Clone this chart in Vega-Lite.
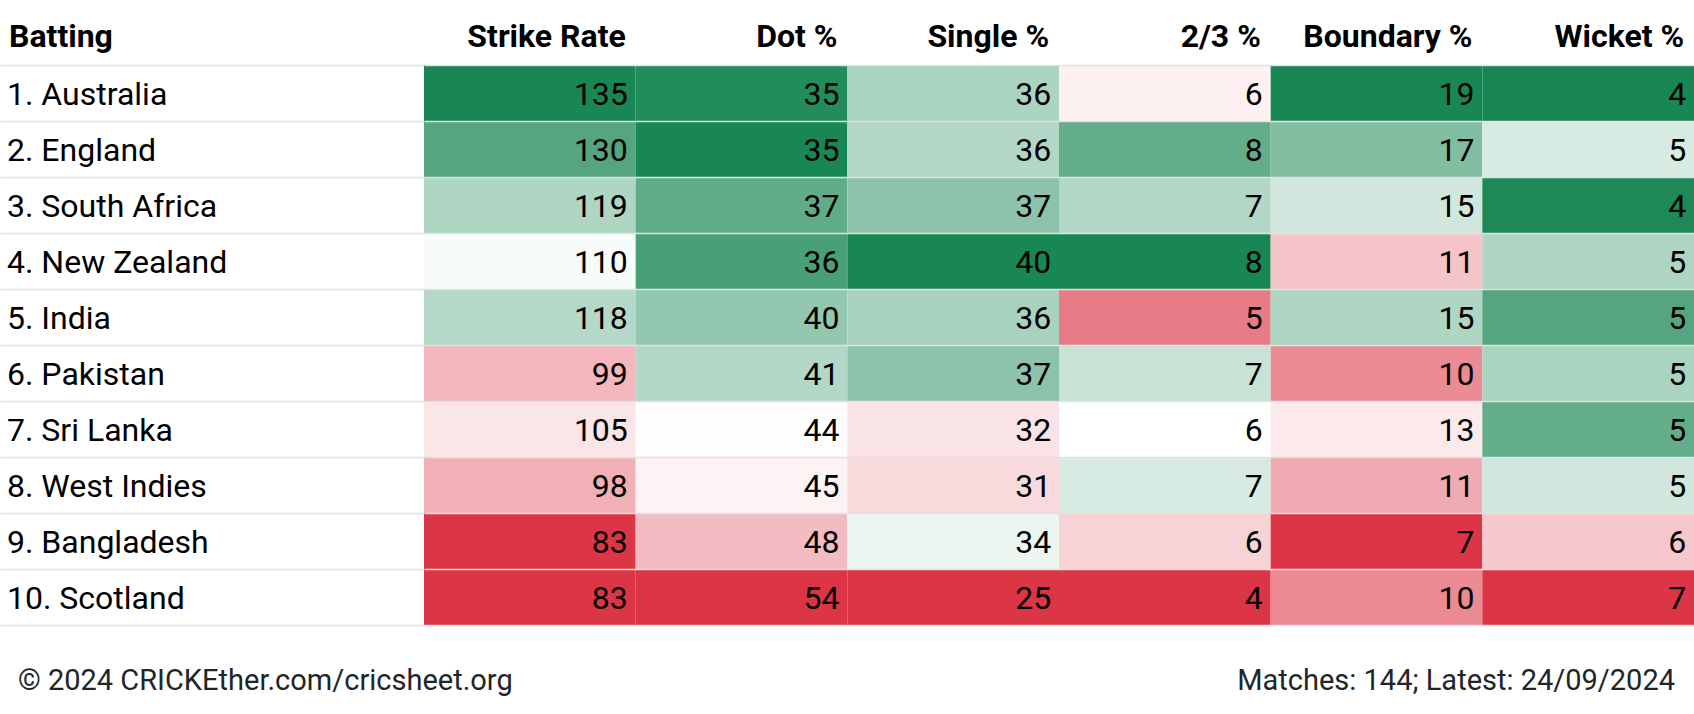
{
  "$schema": "https://vega.github.io/schema/vega-lite/v6.json",
  "padding": {"top": 20, "left": 0, "right": 0, "bottom": 0},
  "background": "white",
  "bounds": "flush",
  "spacing": 0,
  "config": {"view": {"stroke": null}, "font": "Roboto", "concat": {"spacing": 0}},
  "datasets": {
    "teams": [
      {"team": "1. Australia"}, {"team": "2. England"}, {"team": "3. South Africa"}, {"team": "4. New Zealand"}, {"team": "5. India"},
      {"team": "6. Pakistan"}, {"team": "7. Sri Lanka"}, {"team": "8. West Indies"}, {"team": "9. Bangladesh"}, {"team": "10. Scotland"}
    ],
    "cells": [
      {"team": "1. Australia", "metric": "Strike Rate", "value": 135, "rating": 1.0},
      {"team": "1. Australia", "metric": "Dot %", "value": 35, "rating": 0.96},
      {"team": "1. Australia", "metric": "Single %", "value": 36, "rating": 0.37},
      {"team": "1. Australia", "metric": "2/3 %", "value": 6, "rating": -0.07},
      {"team": "1. Australia", "metric": "Boundary %", "value": 19, "rating": 1.0},
      {"team": "1. Australia", "metric": "Wicket %", "value": 4, "rating": 1.0},
      {"team": "2. England", "metric": "Strike Rate", "value": 130, "rating": 0.74},
      {"team": "2. England", "metric": "Dot %", "value": 35, "rating": 1.0},
      {"team": "2. England", "metric": "Single %", "value": 36, "rating": 0.33},
      {"team": "2. England", "metric": "2/3 %", "value": 8, "rating": 0.68},
      {"team": "2. England", "metric": "Boundary %", "value": 17, "rating": 0.55},
      {"team": "2. England", "metric": "Wicket %", "value": 5, "rating": 0.17},
      {"team": "3. South Africa", "metric": "Strike Rate", "value": 119, "rating": 0.35},
      {"team": "3. South Africa", "metric": "Dot %", "value": 37, "rating": 0.69},
      {"team": "3. South Africa", "metric": "Single %", "value": 37, "rating": 0.5},
      {"team": "3. South Africa", "metric": "2/3 %", "value": 7, "rating": 0.33},
      {"team": "3. South Africa", "metric": "Boundary %", "value": 15, "rating": 0.2},
      {"team": "3. South Africa", "metric": "Wicket %", "value": 4, "rating": 0.98},
      {"team": "4. New Zealand", "metric": "Strike Rate", "value": 110, "rating": 0.035},
      {"team": "4. New Zealand", "metric": "Dot %", "value": 36, "rating": 0.79},
      {"team": "4. New Zealand", "metric": "Single %", "value": 40, "rating": 1.0},
      {"team": "4. New Zealand", "metric": "2/3 %", "value": 8, "rating": 1.0},
      {"team": "4. New Zealand", "metric": "Boundary %", "value": 11, "rating": -0.29},
      {"team": "4. New Zealand", "metric": "Wicket %", "value": 5, "rating": 0.35},
      {"team": "5. India", "metric": "Strike Rate", "value": 118, "rating": 0.32},
      {"team": "5. India", "metric": "Dot %", "value": 40, "rating": 0.47},
      {"team": "5. India", "metric": "Single %", "value": 36, "rating": 0.38},
      {"team": "5. India", "metric": "2/3 %", "value": 5, "rating": -0.65},
      {"team": "5. India", "metric": "Boundary %", "value": 15, "rating": 0.35},
      {"team": "5. India", "metric": "Wicket %", "value": 5, "rating": 0.74},
      {"team": "6. Pakistan", "metric": "Strike Rate", "value": 99, "rating": -0.36},
      {"team": "6. Pakistan", "metric": "Dot %", "value": 41, "rating": 0.33},
      {"team": "6. Pakistan", "metric": "Single %", "value": 37, "rating": 0.5},
      {"team": "6. Pakistan", "metric": "2/3 %", "value": 7, "rating": 0.24},
      {"team": "6. Pakistan", "metric": "Boundary %", "value": 10, "rating": -0.57},
      {"team": "6. Pakistan", "metric": "Wicket %", "value": 5, "rating": 0.37},
      {"team": "7. Sri Lanka", "metric": "Strike Rate", "value": 105, "rating": -0.13},
      {"team": "7. Sri Lanka", "metric": "Dot %", "value": 44, "rating": -0.01},
      {"team": "7. Sri Lanka", "metric": "Single %", "value": 32, "rating": -0.14},
      {"team": "7. Sri Lanka", "metric": "2/3 %", "value": 6, "rating": 0.0},
      {"team": "7. Sri Lanka", "metric": "Boundary %", "value": 13, "rating": -0.11},
      {"team": "7. Sri Lanka", "metric": "Wicket %", "value": 5, "rating": 0.68},
      {"team": "8. West Indies", "metric": "Strike Rate", "value": 98, "rating": -0.39},
      {"team": "8. West Indies", "metric": "Dot %", "value": 45, "rating": -0.06},
      {"team": "8. West Indies", "metric": "Single %", "value": 31, "rating": -0.19},
      {"team": "8. West Indies", "metric": "2/3 %", "value": 7, "rating": 0.17},
      {"team": "8. West Indies", "metric": "Boundary %", "value": 11, "rating": -0.42},
      {"team": "8. West Indies", "metric": "Wicket %", "value": 5, "rating": 0.2},
      {"team": "9. Bangladesh", "metric": "Strike Rate", "value": 83, "rating": -1.0},
      {"team": "9. Bangladesh", "metric": "Dot %", "value": 48, "rating": -0.33},
      {"team": "9. Bangladesh", "metric": "Single %", "value": 34, "rating": 0.08},
      {"team": "9. Bangladesh", "metric": "2/3 %", "value": 6, "rating": -0.22},
      {"team": "9. Bangladesh", "metric": "Boundary %", "value": 7, "rating": -1.0},
      {"team": "9. Bangladesh", "metric": "Wicket %", "value": 6, "rating": -0.27},
      {"team": "10. Scotland", "metric": "Strike Rate", "value": 83, "rating": -1.0},
      {"team": "10. Scotland", "metric": "Dot %", "value": 54, "rating": -1.0},
      {"team": "10. Scotland", "metric": "Single %", "value": 25, "rating": -1.0},
      {"team": "10. Scotland", "metric": "2/3 %", "value": 4, "rating": -1.0},
      {"team": "10. Scotland", "metric": "Boundary %", "value": 10, "rating": -0.58},
      {"team": "10. Scotland", "metric": "Wicket %", "value": 7, "rating": -1.0}
    ]
  },
  "hconcat": [
    {
      "width": 424,
      "height": 560,
      "data": {"name": "teams"},
      "title": {"text": "© 2024 CRICKEther.com/cricsheet.org", "orient": "bottom", "anchor": "start", "baseline": "alphabetic", "offset": 65, "dx": 18, "fontSize": 29, "fontWeight": "normal", "color": "#212529", "font": "Roboto"},
      "mark": {"type": "text", "align": "left", "baseline": "alphabetic", "dx": 7, "dy": 12, "fontSize": 32, "color": "#000000"},
      "encoding": {
        "x": {"datum": "Batting", "type": "nominal", "bandPosition": 0,
              "scale": {"type": "band", "paddingInner": 0, "paddingOuter": 0},
              "axis": {"orient": "top", "title": null, "ticks": false, "domain": false, "grid": false, "labelAngle": 0, "labelAlign": "left", "labelOffset": -203, "labelPadding": 19, "labelBaseline": "alphabetic", "labelFontSize": 32, "labelFontWeight": "bold", "labelColor": "#000000", "labelFont": "Roboto", "labelLimit": 0}},
        "y": {"field": "team", "type": "nominal", "sort": null,
              "scale": {"type": "band", "paddingInner": 0, "paddingOuter": 0},
              "axis": {"orient": "left", "title": null, "labels": false, "ticks": false, "domain": false, "grid": true, "tickBand": "extent", "gridColor": "#dee2e6", "gridWidth": 1.6, "zindex": 1}},
        "text": {"field": "team"}
      }
    },
    {
      "width": 1270,
      "height": 560,
      "data": {"name": "cells"},
      "title": {"text": "Matches: 144; Latest: 24/09/2024", "orient": "bottom", "anchor": "end", "baseline": "alphabetic", "offset": 65, "dx": -19, "fontSize": 29, "fontWeight": "normal", "color": "#212529", "font": "Roboto"},
      "encoding": {
        "x": {"field": "metric", "type": "nominal", "sort": ["Strike Rate", "Dot %", "Single %", "2/3 %", "Boundary %", "Wicket %"],
              "scale": {"type": "band", "paddingInner": 0, "paddingOuter": 0},
              "axis": {"orient": "top", "title": null, "ticks": false, "domain": false, "grid": false, "labelAngle": 0, "labelAlign": "right", "labelOffset": 96, "labelPadding": 19, "labelBaseline": "alphabetic", "labelFontSize": 32, "labelFontWeight": "bold", "labelColor": "#000000", "labelFont": "Roboto", "labelLimit": 0}},
        "y": {"field": "team", "type": "nominal", "sort": null,
              "scale": {"type": "band", "paddingInner": 0, "paddingOuter": 0},
              "axis": {"orient": "left", "title": null, "labels": false, "ticks": false, "domain": false, "grid": true, "tickBand": "extent", "gridColor": "#dee2e6", "gridWidth": 1.6, "zindex": 1}}
      },
      "layer": [
        {"mark": {"type": "rect"},
         "encoding": {"color": {"field": "rating", "type": "quantitative", "legend": null,
                      "scale": {"type": "linear", "domain": [-1, 0, 1], "range": ["#dc3545", "#ffffff", "#198754"], "interpolate": "rgb"}}}},
        {"mark": {"type": "text", "align": "right", "baseline": "alphabetic", "dx": 98, "dy": 12, "fontSize": 32, "color": "#000000"},
         "encoding": {"text": {"field": "value"}}}
      ]
    }
  ]
}
